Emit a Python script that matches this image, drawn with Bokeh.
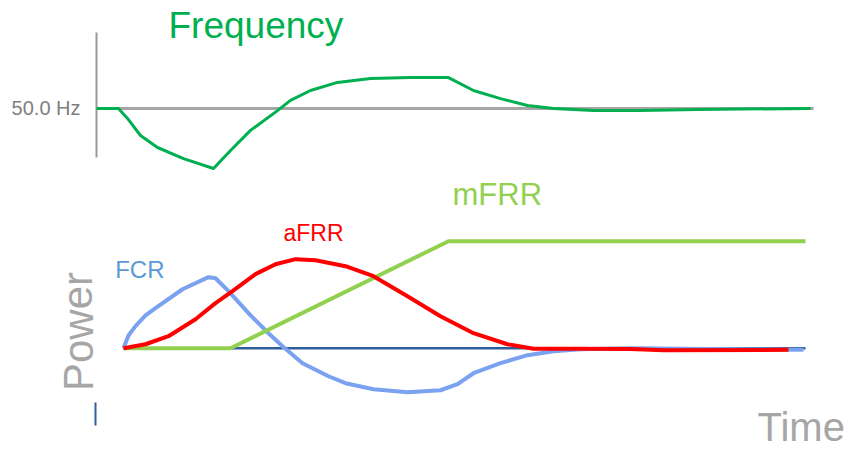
from bokeh.plotting import figure
from bokeh.models import Range1d, Label
from bokeh.core.properties import value
from bokeh.embed import file_html
from bokeh.resources import INLINE

# ---------------- data ----------------
# Frequency panel: time (s) and grid frequency (Hz)
freq_t = [0, 22, 31, 44, 61, 87, 117, 134, 154, 181, 194, 214, 241, 274, 314,
          352, 377, 404, 431, 457, 497, 544, 601, 714]
freq_hz = [50.000, 50.000, 49.967, 49.910, 49.870, 49.833, 49.800, 49.860, 49.927,
           49.993, 50.027, 50.060, 50.087, 50.100, 50.103, 50.103, 50.060, 50.033,
           50.010, 50.000, 49.993, 49.993, 49.997, 50.000]
nominal_hz = 50.0
freq_axis_hz = [49.837, 50.253]
freq_end_t = 717

# Power panel: time (s) and activated power (% of imbalance)
fcr_t = [0, 5, 12, 22, 32, 59, 85, 92, 105, 125, 145, 159, 179, 205, 222, 250, 284,
         317, 334, 350, 377, 404, 430, 457, 507, 680]
fcr_p = [0, 11.9, 20.6, 30.6, 37.4, 55.1, 66.4, 65.4, 53.3, 32.7, 14.0, 1.9, -14.0,
         -26.2, -32.7, -38.3, -41.1, -39.3, -33.6, -23.4, -14.0, -6.5, -2.8, -0.9, 0,
         -1.5]
afrr_t = [0, 22, 45, 72, 92, 109, 132, 152, 172, 192, 222, 250, 284, 317, 350, 384,
          410, 457, 507, 540, 665]
afrr_p = [0, 3.7, 11.2, 27.1, 42.1, 53.3, 69.2, 78.5, 83.2, 82.2, 76.6, 67.3, 48.6,
          29.9, 14.0, 3.7, -0.5, -0.5, -0.7, -2.0, -1.5]
mfrr_t = [0, 107, 325, 682]
mfrr_p = [0, 0, 100, 100]
power_end_t = 682
power_axis_p = [-50.7, -72.2]

GREEN = "#00B050"
LGREEN = "#92D050"
RED = "#FF0000"
BLUE = "#7AA2F0"
BLUE_TXT = "#5B9BD5"
DBLUE = "#2F5F9A"
GRAY = "#A6A6A6"
DGRAY = "#808080"
REG = "Liberation Sans"

# one frame, two coordinate systems (frequency panel = default ranges,
# power panel = extra ranges "pt"/"pp")
p = figure(width=856, height=449, output_backend="svg", toolbar_location=None,
           x_range=Range1d(-96, 760), y_range=Range1d(48.8633, 50.36),
           x_axis_location=None, y_axis_location=None, min_border=0)
p.extra_x_ranges = {"pt": Range1d(-123, 733)}
p.extra_y_ranges = {"pp": Range1d(-94.67, 324.95)}
p.outline_line_color = None
p.grid.visible = False

# ---- frequency panel ----
p.segment(x0=[0], y0=[freq_axis_hz[0]], x1=[0], y1=[freq_axis_hz[1]],
          line_color="#9A9A9A", line_width=2)
p.line([0, freq_end_t], [nominal_hz, nominal_hz], line_color=GRAY, line_width=3)
p.line(freq_t, freq_hz, line_color=GREEN, line_width=3, line_join="round")

p.add_layout(Label(x=72, y=50.275, text="Frequency", text_font=REG,
                   text_font_size="37px", text_color=GREEN,
                   text_align="left", text_baseline="middle"))
p.add_layout(Label(x=-16, y=nominal_hz, text="50.0 Hz", text_font=REG,
                   text_font_size="20px", text_color=DGRAY,
                   text_align="right", text_baseline="middle"))

# ---- power panel ----
kw = dict(x_range_name="pt", y_range_name="pp")
p.segment(x0=[-28], y0=[power_axis_p[0]], x1=[-28], y1=[power_axis_p[1]],
          line_color=DBLUE, line_width=2, **kw)
p.line([0, power_end_t], [0, 0], line_color=DBLUE, line_width=2.5, **kw)
p.line(fcr_t, fcr_p, line_color=BLUE, line_width=4, line_join="round", **kw)
p.line(mfrr_t, mfrr_p, line_color=LGREEN, line_width=4, **kw)
p.line(afrr_t, afrr_p, line_color=RED, line_width=4, line_join="round", **kw)

p.text(x=[41], y=[73.6], text=["FCR"], text_font=value(REG),
       text_font_size="24px", text_color=BLUE_TXT, text_align="right",
       text_baseline="middle", **kw)
p.add_layout(Label(x=160, y=107.7, text="aFRR", text_font=REG,
                   text_font_size="23px", text_color=RED,
                   text_align="left", text_baseline="middle", **kw))
p.add_layout(Label(x=329, y=143.6, text="mFRR", text_font=REG,
                   text_font_size="31px", text_color=LGREEN,
                   text_align="left", text_baseline="middle", **kw))
p.add_layout(Label(x=-45.5, y=15.6, text="Power", text_font=REG,
                   text_font_size="42px", text_color=GRAY, angle=1.5708,
                   text_align="center", text_baseline="middle", **kw))
p.add_layout(Label(x=634, y=-73.2, text="Time", text_font=REG,
                   text_font_size="40px", text_color=GRAY,
                   text_align="left", text_baseline="middle", **kw))

open("out.html", "w").write(file_html(p, INLINE))
